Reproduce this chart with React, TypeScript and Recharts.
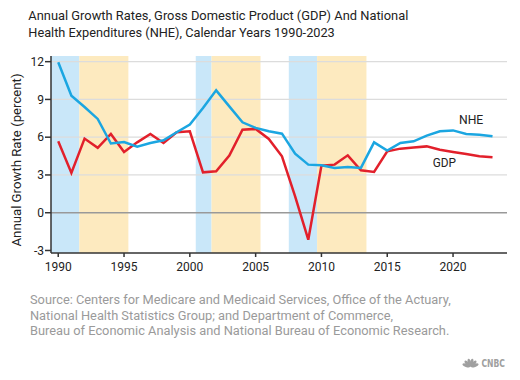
import React from "react";
import {
  LineChart,
  Line,
  XAxis,
  YAxis,
  ReferenceArea,
  ReferenceLine,
} from "recharts";

const years = [
  1990, 1991, 1992, 1993, 1994, 1995, 1996, 1997, 1998, 1999, 2000, 2001,
  2002, 2003, 2004, 2005, 2006, 2007, 2008, 2009, 2010, 2011, 2012, 2013,
  2014, 2015, 2016, 2017, 2018, 2019, 2020, 2021, 2022, 2023,
];
const nheGrowth = [
  11.95, 9.3, 8.4, 7.45, 5.5, 5.62, 5.25, 5.54, 5.75, 6.39, 7.0, 8.32, 9.72,
  8.45, 7.18, 6.74, 6.47, 6.28, 4.69, 3.82, 3.77, 3.56, 3.64, 3.56, 5.59, 4.93,
  5.54, 5.67, 6.12, 6.47, 6.54, 6.26, 6.2, 6.07,
];
const gdpGrowth = [
  5.67, 3.16, 5.89, 5.15, 6.26, 4.83, 5.59, 6.26, 5.54, 6.39, 6.47, 3.21, 3.29,
  4.54, 6.6, 6.66, 5.86, 4.48, 1.3, -2.14, 3.74, 3.82, 4.56, 3.37, 3.24, 4.88,
  5.09, 5.19, 5.27, 5.01, 4.83, 4.67, 4.48, 4.4,
];
const xTicks = [1990, 1995, 2000, 2005, 2010, 2015, 2020];
const yTicks = [-3, 0, 3, 6, 9, 12];
const gridValues = [3, 6, 9, 12];
const xDomain = [1989.45, 2024.1];
const yDomain = [-3.2, 12.45];
const blueBands = [
  [1989.45, 1991.6],
  [2000.45, 2001.65],
  [2007.52, 2009.67],
];
const yellowBands = [
  [1991.6, 1995.33],
  [2001.65, 2005.37],
  [2009.67, 2013.42],
];
const titleLines = [
  "Annual Growth Rates, Gross Domestic Product (GDP) And National",
  "Health Expenditures (NHE), Calendar Years 1990-2023",
];
const sourceLines = [
  "Source: Centers for Medicare and Medicaid Services, Office of the Actuary,",
  "National Health Statistics Group; and Department of Commerce,",
  "Bureau of Economic Analysis and National Bureau of Economic Research.",
];

const data = years.map((year, i) => ({
  year,
  nhe: nheGrowth[i],
  gdp: gdpGrowth[i],
}));

const FONT = "Roboto, 'Noto Sans', sans-serif";

export default function App() {
  return (
    <div style={{ position: "relative", width: 520, height: 380, background: "#fff" }}>
      <style>{`body{margin:0;}`}</style>
      <LineChart
        width={520}
        height={380}
        data={data}
        margin={{ top: 56, right: 13, bottom: 97, left: 0 }}
      >
        {blueBands.map((b, i) => (
          <ReferenceArea
            key={"b" + i}
            x1={b[0]}
            x2={b[1]}
            y1={yDomain[0]}
            y2={yDomain[1]}
            fill="#c9e7f9"
            fillOpacity={1}
            stroke="none"
          />
        ))}
        {yellowBands.map((b, i) => (
          <ReferenceArea
            key={"y" + i}
            x1={b[0]}
            x2={b[1]}
            y1={yDomain[0]}
            y2={yDomain[1]}
            fill="#fdeabf"
            fillOpacity={1}
            stroke="none"
          />
        ))}
        {gridValues.map((v) => (
          <ReferenceLine key={"g" + v} y={v} stroke="#dcdcdc" strokeWidth={1.2} />
        ))}
        <ReferenceLine y={0} stroke="#999" strokeWidth={1.5} />
        <XAxis
          type="number"
          dataKey="year"
          domain={xDomain}
          ticks={xTicks}
          allowDataOverflow
          height={30}
          tickSize={4}
          tickMargin={5}
          axisLine={{ stroke: "#333", strokeWidth: 1.5 }}
          tickLine={{ stroke: "#333", strokeWidth: 1.5 }}
          tick={{ fill: "#222", fontSize: 12, fontFamily: FONT }}
        />
        <YAxis
          type="number"
          domain={yDomain}
          ticks={yTicks}
          allowDataOverflow
          width={51}
          tickSize={6}
          tickMargin={1}
          axisLine={{ stroke: "#333", strokeWidth: 1.5 }}
          tickLine={{ stroke: "#333", strokeWidth: 1.5 }}
          tick={{ fill: "#222", fontSize: 12, fontFamily: FONT }}
        />
        <Line
          type="linear"
          dataKey="gdp"
          stroke="#e2202b"
          strokeWidth={2.5}
          dot={false}
          isAnimationActive={false}
        />
        <Line
          type="linear"
          dataKey="nhe"
          stroke="#1ba6e1"
          strokeWidth={2.5}
          dot={false}
          isAnimationActive={false}
        />
      </LineChart>
      <svg
        width={520}
        height={380}
        style={{ position: "absolute", left: 0, top: 0, pointerEvents: "none" }}
      >
        <text x={28.3} y={20} fontSize={13} fill="#222" fontFamily={FONT} textLength={380} lengthAdjust="spacingAndGlyphs">
          {titleLines[0]}
        </text>
        <text x={28.3} y={36.7} fontSize={13} fill="#222" fontFamily={FONT} textLength={306.5} lengthAdjust="spacingAndGlyphs">
          {titleLines[1]}
        </text>
        <text
          x={0}
          y={0}
          transform="translate(21,160) rotate(-90)"
          textAnchor="middle"
          fontSize={13}
          fill="#222"
          fontFamily={FONT}
          textLength={173}
          lengthAdjust="spacingAndGlyphs"
        >
          Annual Growth Rate (percent)
        </text>
        <text x={459} y={124} fontSize={12.5} fill="#222" fontFamily={FONT} textLength={24.3} lengthAdjust="spacingAndGlyphs">
          NHE
        </text>
        <text x={432.7} y={167.3} fontSize={12.5} fill="#222" fontFamily={FONT} textLength={23.3} lengthAdjust="spacingAndGlyphs">
          GDP
        </text>
        <text x={30} y={304} fontSize={12.5} fill="#9a9a9a" fontFamily={FONT} textLength={420.7} lengthAdjust="spacingAndGlyphs">
          {sourceLines[0]}
        </text>
        <text x={30} y={320} fontSize={12.5} fill="#9a9a9a" fontFamily={FONT} textLength={363} lengthAdjust="spacingAndGlyphs">
          {sourceLines[1]}
        </text>
        <text x={30} y={335} fontSize={12.5} fill="#9a9a9a" fontFamily={FONT} textLength={419.3} lengthAdjust="spacingAndGlyphs">
          {sourceLines[2]}
        </text>
        <g fill="#a0a0a0">
          {[-70, -42, -14, 14, 42, 70].map((a) => (
            <ellipse
              key={a}
              cx={0}
              cy={-4.5}
              rx={1.6}
              ry={4}
              transform={`translate(470.5,367) rotate(${a})`}
            />
          ))}
        </g>
        <text
          x={481.5}
          y={367.3}
          fontSize={11}
          fontWeight={900}
          fill="#a0a0a0"
          fontFamily="'DejaVu Sans', sans-serif"
          textLength={23.5}
          lengthAdjust="spacingAndGlyphs"
        >
          CNBC
        </text>
      </svg>
    </div>
  );
}
